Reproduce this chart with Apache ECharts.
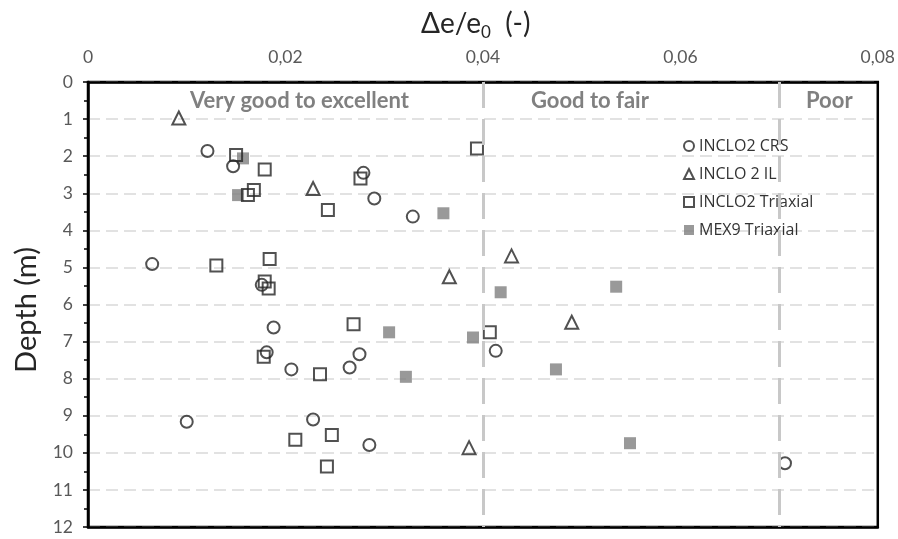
<!DOCTYPE html>
<html>
<head>
<meta charset="utf-8">
<script src="https://cdn.jsdelivr.net/npm/echarts@6/dist/echarts.min.js"></script>
<style>
  html, body { margin: 0; padding: 0; background: #fff; }
  #chart { width: 898px; height: 539px; }
</style>
</head>
<body>
<div id="chart"></div>
<script>
// Void ratio change Δe/e0 against depth for four test series
var crsX = [0.0121, 0.0147, 0.0279, 0.0290, 0.0329, 0.0065, 0.0176, 0.0188, 0.0181, 0.0206, 0.0265, 0.0275, 0.0413, 0.0100, 0.0228, 0.0285, 0.0706];
var crsY = [1.86, 2.27, 2.45, 3.14, 3.63, 4.91, 5.47, 6.62, 7.29, 7.75, 7.70, 7.34, 7.25, 9.16, 9.10, 9.79, 10.28];

var ilX = [0.0092, 0.0228, 0.0366, 0.0429, 0.0490, 0.0386];
var ilY = [0.97, 2.87, 5.25, 4.69, 6.48, 9.86];

var triX = [0.0150, 0.0179, 0.0276, 0.0168, 0.0162, 0.0243, 0.0394, 0.0130, 0.0184, 0.0179, 0.0183, 0.0269, 0.0178, 0.0235, 0.0407, 0.0247, 0.0210, 0.0242];
var triY = [1.97, 2.36, 2.60, 2.91, 3.05, 3.45, 1.79, 4.95, 4.77, 5.38, 5.57, 6.53, 7.41, 7.88, 6.75, 9.52, 9.65, 10.37];

var mexX = [0.0157, 0.0152, 0.0360, 0.0418, 0.0535, 0.0305, 0.0390, 0.0322, 0.0474, 0.0549];
var mexY = [2.06, 3.05, 3.54, 5.67, 5.52, 6.75, 6.89, 7.95, 7.75, 9.74];

// Quality class boundaries and names
var classBounds = [0.04, 0.07];
var classNames = ['Very good to excellent', 'Good to fair', 'Poor'];

var xTicks = [0, 0.02, 0.04, 0.06, 0.08];

function pairs(xs, ys) {
  return xs.map(function (x, i) { return [x, ys[i]]; });
}

var FONT = 'Lato, "Open Sans", sans-serif';
var chart = echarts.init(document.getElementById('chart'));

var openStyle = { color: 'rgba(0,0,0,0)', borderColor: '#262626', borderWidth: 2 };
var classLabel = { fontSize: 22, fontWeight: 'bold', fill: '#808080', fontFamily: FONT };

chart.setOption({
  animation: false,
  textStyle: { fontFamily: FONT },
  grid: {
    left: 88, right: 20, top: 82, bottom: 12,
    show: true, borderColor: '#000', borderWidth: 2.5, backgroundColor: 'transparent'
  },
  legend: {
    orient: 'vertical',
    left: 678, top: 132,
    itemWidth: 10, itemHeight: 10, itemGap: 10,
    textStyle: { fontFamily: '"Open Sans", sans-serif', fontSize: 16, lineHeight: 18, color: '#333', padding: [0, 0, 0, 0] },
    data: ['INCLO2 CRS', 'INCLO 2 IL', 'INCLO2 Triaxial', 'MEX9 Triaxial']
  },
  xAxis: [
    {
      type: 'value', position: 'top',
      min: 0, max: 0.08, interval: 0.02,
      axisLine: { show: true, lineStyle: { color: '#000', width: 2.5 } },
      axisTick: { show: false },
      splitLine: { show: false },
      axisLabel: {
        margin: 16, fontSize: 17.5, color: '#595959', fontFamily: FONT,
        formatter: function (v) {
          var t = xTicks.find(function (k) { return Math.abs(k - v) < 1e-9; });
          return t === 0 ? '0' : String(t).replace('.', ',');
        }
      }
    },
    {
      // bottom frame edge drawn above the dashed gridline at 12 m
      type: 'value', position: 'bottom',
      min: 0, max: 0.08, interval: 0.02,
      axisLine: { show: true, lineStyle: { color: '#000', width: 2.5 } },
      axisTick: { show: false }, axisLabel: { show: false }, splitLine: { show: false }
    }
  ],
  yAxis: {
    type: 'value', inverse: true,
    min: 0, max: 12, interval: 1,
    axisLine: { show: true, lineStyle: { color: '#000', width: 2.5 } },
    axisTick: { show: true, inside: false, length: 5, lineStyle: { color: '#000', width: 1.5 } },
    minorTick: { show: true, splitNumber: 2, length: 4, lineStyle: { color: '#000', width: 1.5 } },
    splitLine: { show: true, lineStyle: { color: '#d9d9d9', width: 1.5, type: [12, 6] } },
    axisLabel: { margin: 15, fontSize: 17.5, color: '#595959', fontFamily: FONT }
  },
  graphic: [
    {
      type: 'text', left: 421, top: 7, z: 10,
      style: {
        text: '{a|Δe/e}{s|0}{a|  (-)}',
        rich: {
          a: { fontSize: 28, fill: '#262626', fontFamily: FONT, lineHeight: 35 },
          s: { fontSize: 17, fill: '#262626', fontFamily: FONT, lineHeight: 35, padding: [17, 0, 0, 0] }
        }
      }
    },
    {
      type: 'text', x: 27, y: 310, rotation: Math.PI / 2, z: 10,
      style: { text: 'Depth (m)', fontSize: 29, fill: '#262626', fontFamily: FONT, align: 'center', verticalAlign: 'middle' }
    },
    { type: 'text', left: 190, top: 90, z: 10, style: Object.assign({ text: classNames[0] }, classLabel) },
    { type: 'text', left: 531, top: 90, z: 10, style: Object.assign({ text: classNames[1] }, classLabel) },
    { type: 'text', left: 806, top: 90, z: 10, style: Object.assign({ text: classNames[2] }, classLabel) }
  ],
  series: [
    {
      type: 'scatter', name: 'bounds', data: [], z: 1, silent: true,
      markLine: {
        silent: true, symbol: 'none', animation: false,
        label: { show: false },
        lineStyle: { color: '#c8c8c8', width: 3, type: [26, 11] },
        data: classBounds.map(function (b) { return { xAxis: b }; })
      }
    },
    {
      type: 'scatter', name: 'INCLO2 CRS', symbol: 'circle', symbolSize: 12, z: 3,
      itemStyle: openStyle, data: pairs(crsX, crsY)
    },
    {
      type: 'scatter', name: 'INCLO 2 IL', symbol: 'triangle', symbolSize: 13, z: 3,
      itemStyle: openStyle, data: pairs(ilX, ilY)
    },
    {
      type: 'scatter', name: 'INCLO2 Triaxial', symbol: 'rect', symbolSize: 12, z: 3,
      itemStyle: openStyle, data: pairs(triX, triY)
    },
    {
      type: 'scatter', name: 'MEX9 Triaxial', symbol: 'rect', symbolSize: 12, z: 2,
      itemStyle: { color: '#7f7f7f' }, data: pairs(mexX, mexY)
    }
  ]
});
</script>
</body>
</html>
